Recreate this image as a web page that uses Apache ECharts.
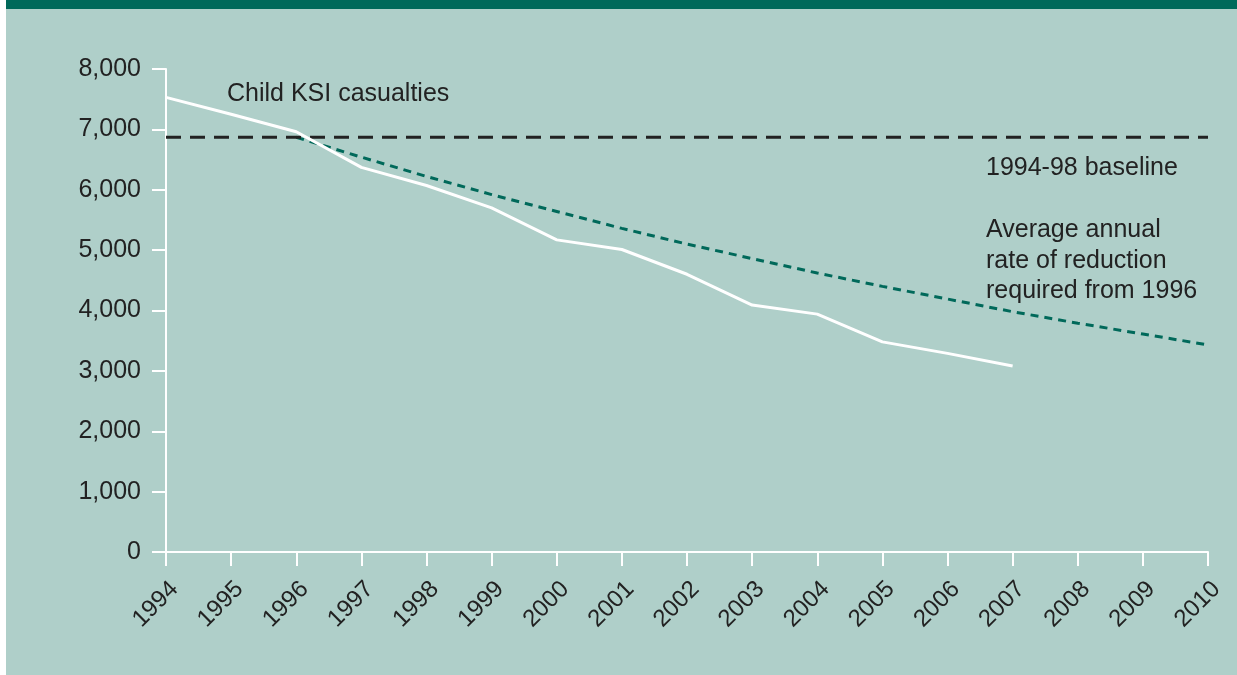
<!DOCTYPE html>
<html>
<head>
<meta charset="utf-8">
<script src="https://cdn.jsdelivr.net/npm/echarts@6/dist/echarts.min.js"></script>
<style>
html,body{margin:0;padding:0;background:#ffffff;}
#bg{position:absolute;left:6px;top:0;width:1231px;height:675px;background:#afcfc9;}
#bar{position:absolute;left:6px;top:0;width:1231px;height:9px;background:#00695a;}
#chart{position:absolute;left:0;top:0;width:1237px;height:675px;}
</style>
</head>
<body>
<div id="bg"></div>
<div id="bar"></div>
<div id="chart"></div>
<script>
// ---- data ----
const years = ['1994','1995','1996','1997','1998','1999','2000','2001','2002','2003','2004','2005','2006','2007','2008','2009','2010'];
const childKSI = [7530, 7250, 6960, 6370, 6070, 5700, 5170, 5010, 4600, 4090, 3940, 3480, 3290, 3080];
const baselineValue = 6870;
const requiredReduction = [null, null, 6870, 6540, 6220, 5920, 5640, 5360, 5100, 4860, 4620, 4400, 4190, 3980, 3790, 3610, 3430];
const yTicks = [0, 1000, 2000, 3000, 4000, 5000, 6000, 7000, 8000];
const labels = {
  series: 'Child KSI casualties',
  baseline: '1994-98 baseline',
  target: ['Average annual', 'rate of reduction', 'required from 1996']
};

const FONT = '"Liberation Sans", Arial, Helvetica, sans-serif';
const TXT = '#222222';
const FS = 25;

const chart = echarts.init(document.getElementById('chart'), null, {renderer: 'canvas'});
const option = {
  backgroundColor: 'transparent',
  animation: false,
  grid: {left: 166, right: 29, top: 69, bottom: 123, containLabel: false},
  xAxis: {
    type: 'category',
    data: years,
    boundaryGap: false,
    axisLine: {lineStyle: {color: '#ffffff', width: 2}},
    axisTick: {show: true, length: 14, lineStyle: {color: '#ffffff', width: 2}, alignWithLabel: true},
    axisLabel: {
      interval: 0, rotate: 45, margin: 25,
      color: TXT, fontFamily: FONT, fontSize: FS - 1,
      verticalAlign: 'top'
    },
    splitLine: {show: false}
  },
  yAxis: {
    type: 'value',
    min: yTicks[0], max: yTicks[yTicks.length - 1], interval: 1000,
    axisLine: {show: true, lineStyle: {color: '#ffffff', width: 2}},
    axisTick: {show: true, length: 14, lineStyle: {color: '#ffffff', width: 2}},
    axisLabel: {
      margin: 25, color: TXT, fontFamily: FONT, fontSize: FS,
      formatter: v => v.toLocaleString('en-US')
    },
    splitLine: {show: false}
  },
  series: [
    {
      name: 'Required reduction', type: 'line', data: requiredReduction,
      symbol: 'none', connectNulls: false,
      lineStyle: {color: '#00695a', width: 3, type: [8, 6]}, z: 2
    },
    {
      name: 'Baseline', type: 'line', data: years.map(() => baselineValue),
      symbol: 'none',
      lineStyle: {color: '#222222', width: 3, type: [15, 9]}, z: 3
    },
    {
      name: 'Child KSI casualties', type: 'line', data: childKSI,
      symbol: 'none',
      lineStyle: {color: '#ffffff', width: 3}, z: 4
    }
  ],
  graphic: [
    {type: 'text', left: 227, top: 82, style: {text: labels.series, fill: TXT, font: FS + 'px ' + FONT}},
    {type: 'text', left: 986, top: 156, style: {text: labels.baseline, fill: TXT, font: FS + 'px ' + FONT}},
    {type: 'text', left: 986, top: 215, style: {text: labels.target.join('\n'), fill: TXT, font: FS + 'px ' + FONT, lineHeight: 30.5}}
  ]
};
chart.setOption(option);
</script>
</body>
</html>
